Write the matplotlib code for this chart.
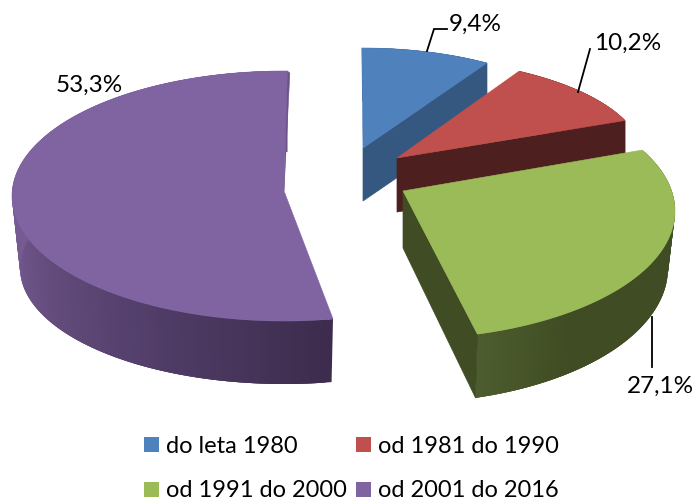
import numpy as np
import matplotlib
matplotlib.use("Agg")
import matplotlib.pyplot as plt
from matplotlib.colors import to_rgb
from matplotlib.patches import Polygon, Rectangle

# ---- data ----
categories = ["do leta 1980", "od 1981 do 1990", "od 1991 do 2000", "od 2001 do 2016"]
shares = [9.4, 10.2, 27.1, 53.3]
value_labels = ["9,4%", "10,2%", "27,1%", "53,3%"]

# ---- style / geometry of each exploded slice (pixels) ----
top_colors = ["#4f81bd", "#c0504d", "#9bbb59", "#8064a2"]
face_colors = ["#355880", "#4e1f1f", "#404c23", "#6b5288"]
apex = [(363, 149), (397, 159), (403, 192), (284, 192)]
centre = [(363, 149), (397, 159), (403, 212), (284, 197)]
radius_x = [235, 246, 272, 272]
radius_y = [100, 100, 128, 125]
lower_rx = [235, 246, 265, 264]
lower_ry = [100, 100, 135, 116]
depth = [53, 54, 57, 72]
apex_depth = [53, 54, 57, 61]
# perspective correction of the slice's start/end angle, degrees
angle_shift = [(-0.3, -2), (-4.1, -2.6), (-9, -4), (1.5, 0.7)]
side_stops = [
    [(0, "#355880"), (360, "#355880")],
    [(0, "#4e1f1f"), (360, "#4e1f1f")],
    [(60, "#404c23"), (142, "#404c23"), (164, "#4d5d2f")],
    [(170, "#3d2c4d"), (205, "#4f3c66"), (270, "#765b92"), (360, "#765b92")],
]

fig = plt.figure(figsize=(6.95, 5.02), dpi=100)
ax = fig.add_axes([0, 0, 1, 1])
ax.set_xlim(0, 695)
ax.set_ylim(502, 0)
ax.axis("off")
plt.rcParams["font.family"] = ["Lato", "DejaVu Sans"]


def rim(cx, cy, rx, ry, t):
    return cx + rx * np.sin(np.radians(t)), cy - ry * np.cos(np.radians(t))


edges = np.concatenate([[0], np.cumsum(shares)]) / sum(shares) * 360.0
draw_order = [3, 0, 1, 2]
for i in draw_order:
    t0 = edges[i] + angle_shift[i][0]
    t1 = edges[i + 1] + angle_shift[i][1]
    ts = np.linspace(t0, t1, 160)
    cx, cy = centre[i]
    ax_, ay_ = apex[i]
    ux, uy = rim(cx, cy, radius_x[i], radius_y[i], ts)
    lx, ly = rim(cx, cy + depth[i], lower_rx[i], lower_ry[i], ts)

    # curved side, shaded along the rim; strips overlap to hide seams
    stop_t = [s[0] for s in side_stops[i]]
    stop_c = np.array([to_rgb(s[1]) for s in side_stops[i]])
    for k in range(len(ts) - 1):
        n = min(k + 3, len(ts) - 1)
        col = [np.interp(ts[k], stop_t, stop_c[:, c]) for c in range(3)]
        ax.add_patch(Polygon([(ux[k], uy[k]), (ux[n], uy[n]),
                              (lx[n], ly[n]), (lx[k], ly[k])],
                             closed=True, fc=col, ec="none", zorder=i + 1))

    # flat cut face at the slice's end edge
    if i != 3:
        ax.add_patch(Polygon([(ax_, ay_), (ux[-1], uy[-1]), (lx[-1], ly[-1]),
                              (ax_, ay_ + apex_depth[i])],
                             closed=True, fc=face_colors[i], ec=face_colors[i],
                             lw=0.5, zorder=i + 1.2))
    else:
        ax.add_patch(Polygon([(ax_, ay_), (ux[-1], uy[-1]), (ux[-1] + 2.5, uy[-1] + 2)],
                             closed=True, fc=face_colors[i], ec=face_colors[i],
                             lw=0.4, zorder=i + 1.2))

    # top surface
    pts = [(ax_, ay_)] + list(zip(ux, uy))
    ax.add_patch(Polygon(pts, closed=True, fc=top_colors[i], ec=top_colors[i],
                         lw=0.4, zorder=i + 1.4))

# value labels and leader lines
label_pos = [(475, 31), (628, 50), (660, 393), (89, 92)]
leaders = [
    [(427, 52), (434, 30), (447, 30)],
    [(578, 93), (590, 50)],
    [(652, 318), (652, 368)],
]
for pts in leaders:
    xs, ys = zip(*pts)
    ax.plot(xs, ys, color="black", lw=1.3, zorder=10, solid_joinstyle="miter")
for (x, y), s in zip(label_pos, value_labels):
    ax.text(x, y, s, ha="center", va="baseline", fontsize=17.5, color="black", zorder=11)

# legend
legend_x = [144, 356, 144, 356]
legend_y = [453, 453, 497.5, 497.5]
for x, y, col, name in zip(legend_x, legend_y, top_colors, categories):
    ax.add_patch(Rectangle((x, y - 15), 15, 15, fc=col, ec="none", zorder=10))
    ax.text(x + 22, y, name, ha="left", va="baseline", fontsize=17, color="black",
            zorder=11)

fig.savefig("out.png", dpi=100)
